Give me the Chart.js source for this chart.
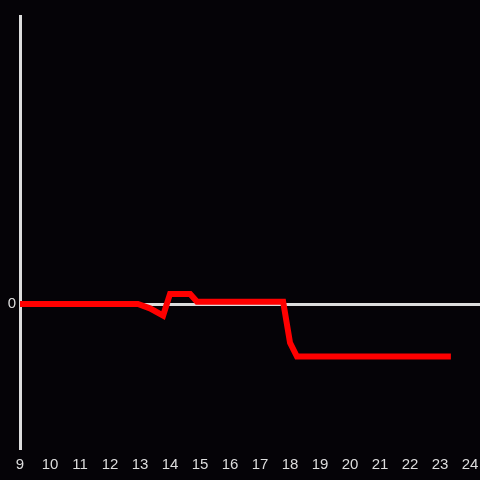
<!DOCTYPE html>
<html>
<head>
<meta charset="utf-8">
<script src="https://cdn.jsdelivr.net/npm/chart.js@4"></script>
<style>
  html, body { margin: 0; padding: 0; background: #050307; }
  #wrap { width: 480px; height: 480px; }
</style>
</head>
<body>
<div id="wrap"><canvas id="chart"></canvas></div>
<script>
// hour of day -> value
const hours = [9, 12.77, 12.93, 13.33, 13.77, 14.0, 14.67, 14.9, 17.77, 18.0, 18.23, 23.36];
const values = [0, 0, 0, -3, -8, 7, 7, 1.5, 1.5, -27, -36.5, -36.5];
const xTicks = [9, 10, 11, 12, 13, 14, 15, 16, 17, 18, 19, 20, 21, 22, 23, 24];

const bg = {
    id: 'bg',
    beforeDraw(chart) {
        const ctx = chart.ctx;
        ctx.save();
        ctx.fillStyle = '#050307';
        ctx.fillRect(0, 0, chart.width, chart.height);
        ctx.restore();
    }
};

const ctx = document.getElementById('chart').getContext('2d');
new Chart(ctx, {
    type: 'line',
    data: {
        datasets: [{
            data: hours.map((h, i) => ({ x: h, y: values[i] })),
            borderColor: '#ff0000',
            borderWidth: 6,
            borderCapStyle: 'butt',
            borderJoinStyle: 'miter',
            pointRadius: 0,
            tension: 0,
            fill: false
        }]
    },
    options: {
        responsive: true,
        maintainAspectRatio: false,
        animation: false,
        layout: { padding: { top: 16, right: 0, left: 0, bottom: 0 } },
        plugins: { legend: { display: false }, tooltip: { enabled: false } },
        scales: {
            x: {
                type: 'linear',
                min: 9,
                max: 24.33,
                afterBuildTicks: (s) => { s.ticks = xTicks.map(v => ({ value: v })); },
                afterFit: (s) => { s.height = 32; s.paddingLeft = 0; s.paddingRight = 0; },
                grid: { display: false },
                border: { display: false },
                ticks: { color: '#dddddd', font: { size: 15 }, padding: 0, maxRotation: 0, autoSkip: false }
            },
            y: {
                min: -100,
                max: 200,
                afterBuildTicks: (s) => { s.ticks = [{ value: 0 }]; },
                afterFit: (s) => { s.width = 20; },
                grid: { color: '#dddddd', lineWidth: 3, tickLength: 0, drawTicks: false },
                border: { display: true, color: '#dddddd', width: 3 },
                ticks: { color: '#dddddd', font: { size: 15 }, padding: 4 }
            }
        }
    },
    plugins: [bg]
});
</script>
</body>
</html>
